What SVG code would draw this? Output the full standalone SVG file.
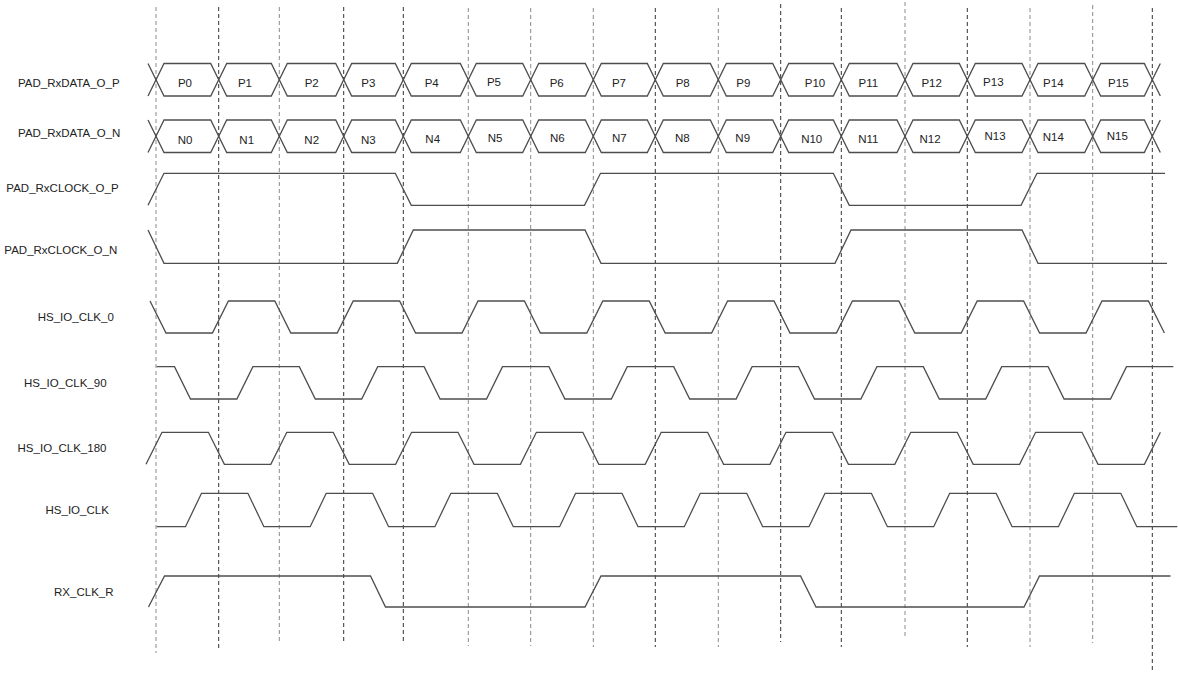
<svg xmlns="http://www.w3.org/2000/svg" xmlns:xlink="http://www.w3.org/1999/xlink" width="1178" height="673" viewBox="0 0 1178 673">
<style>
.bg{fill:#ffffff}
.grid-d{stroke:#333333;stroke-width:1;stroke-dasharray:4,3;fill:none}
.grid-l{stroke:#8a8a8a;stroke-width:1;stroke-dasharray:4,3;fill:none}
.wave{stroke:#4d4d4d;stroke-width:1.3;fill:none;stroke-linejoin:miter}
.lbl{font-family:"Liberation Sans",Arial,sans-serif;font-size:11.5px;fill:#222222;text-anchor:middle}
</style>
<defs>
<g id="dataShape" class="wave">
<polyline points="148,63.5 156,79.75 148,96"/>
<polygon points="156,79.75 164,63.5 210.7,63.5 218.7,79.75 210.7,96 164,96"/>
<polygon points="218.7,79.75 226.7,63.5 271.3,63.5 279.3,79.75 271.3,96 226.7,96"/>
<polygon points="279.3,79.75 287.3,63.5 335.7,63.5 343.7,79.75 335.7,96 287.3,96"/>
<polygon points="343.7,79.75 351.7,63.5 395.3,63.5 403.3,79.75 395.3,96 351.7,96"/>
<polygon points="403.3,79.75 411.3,63.5 460.3,63.5 468.3,79.75 460.3,96 411.3,96"/>
<polygon points="468.3,79.75 476.3,63.5 522.7,63.5 530.7,79.75 522.7,96 476.3,96"/>
<polygon points="530.7,79.75 538.7,63.5 585.3,63.5 593.3,79.75 585.3,96 538.7,96"/>
<polygon points="593.3,79.75 601.3,63.5 647.3,63.5 655.3,79.75 647.3,96 601.3,96"/>
<polygon points="655.3,79.75 663.3,63.5 710.3,63.5 718.3,79.75 710.3,96 663.3,96"/>
<polygon points="718.3,79.75 726.3,63.5 772.7,63.5 780.7,79.75 772.7,96 726.3,96"/>
<polygon points="780.7,79.75 788.7,63.5 833.3,63.5 841.3,79.75 833.3,96 788.7,96"/>
<polygon points="841.3,79.75 849.3,63.5 897,63.5 905,79.75 897,96 849.3,96"/>
<polygon points="905,79.75 913,63.5 959.3,63.5 967.3,79.75 959.3,96 913,96"/>
<polygon points="967.3,79.75 975.3,63.5 1022,63.5 1030,79.75 1022,96 975.3,96"/>
<polygon points="1030,79.75 1038,63.5 1084.7,63.5 1092.7,79.75 1084.7,96 1038,96"/>
<polygon points="1092.7,79.75 1100.7,63.5 1144.3,63.5 1152.3,79.75 1144.3,96 1100.7,96"/>
<polyline points="1160.3,63.5 1152.3,79.75 1160.3,96"/>
</g>
</defs>
<rect class="bg" x="0" y="0" width="1178" height="673"/>

<g id="connectors">
<line class="grid-l" x1="156" y1="7" x2="156" y2="653"/>
<line class="grid-d" x1="218.7" y1="7" x2="218.7" y2="648"/>
<line class="grid-l" x1="279.3" y1="7" x2="279.3" y2="643"/>
<line class="grid-d" x1="343.7" y1="7" x2="343.7" y2="643"/>
<line class="grid-d" x1="403.3" y1="7" x2="403.3" y2="643"/>
<line class="grid-l" x1="468.3" y1="8" x2="468.3" y2="646"/>
<line class="grid-l" x1="530.7" y1="8" x2="530.7" y2="646"/>
<line class="grid-l" x1="593.3" y1="8" x2="593.3" y2="647"/>
<line class="grid-d" x1="655.3" y1="8" x2="655.3" y2="647"/>
<line class="grid-l" x1="718.3" y1="8" x2="718.3" y2="647"/>
<line class="grid-d" x1="780.7" y1="4" x2="780.7" y2="642"/>
<line class="grid-d" x1="841.3" y1="8" x2="841.3" y2="647"/>
<line class="grid-l" x1="905" y1="2" x2="905" y2="639"/>
<line class="grid-d" x1="967.3" y1="8" x2="967.3" y2="647"/>
<line class="grid-l" x1="1030" y1="8" x2="1030" y2="647"/>
<line class="grid-l" x1="1092.7" y1="5" x2="1092.7" y2="643"/>
<line class="grid-d" x1="1152.3" y1="8" x2="1152.3" y2="673"/>
</g>

<g id="PAD_RxDATA_O_P">
<text class="lbl" x="68.8" y="87.3">PAD_RxDATA_O_P</text>
<use xlink:href="#dataShape"/>
<text class="lbl" x="185" y="87.3">P0</text>
<text class="lbl" x="245" y="87.3">P1</text>
<text class="lbl" x="311.7" y="87.3">P2</text>
<text class="lbl" x="368.3" y="87.3">P3</text>
<text class="lbl" x="431.7" y="87.3">P4</text>
<text class="lbl" x="494" y="85.7">P5</text>
<text class="lbl" x="556.7" y="87.3">P6</text>
<text class="lbl" x="619" y="87.3">P7</text>
<text class="lbl" x="682.7" y="87.3">P8</text>
<text class="lbl" x="743.3" y="87.3">P9</text>
<text class="lbl" x="815" y="87.3">P10</text>
<text class="lbl" x="868.3" y="87.3">P11</text>
<text class="lbl" x="931.7" y="87.3">P12</text>
<text class="lbl" x="993.3" y="85.7">P13</text>
<text class="lbl" x="1053.3" y="87.3">P14</text>
<text class="lbl" x="1118.3" y="87.3">P15</text>
</g>

<g id="PAD_RxDATA_O_N">
<text class="lbl" x="69.2" y="137.3">PAD_RxDATA_O_N</text>
<use xlink:href="#dataShape" transform="translate(0,56.5)"/>
<text class="lbl" x="185" y="144">N0</text>
<text class="lbl" x="246.7" y="144">N1</text>
<text class="lbl" x="311.7" y="144">N2</text>
<text class="lbl" x="368.3" y="144">N3</text>
<text class="lbl" x="432.7" y="143.3">N4</text>
<text class="lbl" x="495" y="142.3">N5</text>
<text class="lbl" x="557.3" y="142.3">N6</text>
<text class="lbl" x="619.3" y="142.3">N7</text>
<text class="lbl" x="682.3" y="142.3">N8</text>
<text class="lbl" x="742.7" y="142.3">N9</text>
<text class="lbl" x="811.7" y="143.3">N10</text>
<text class="lbl" x="868.3" y="143.3">N11</text>
<text class="lbl" x="930" y="143">N12</text>
<text class="lbl" x="995" y="140">N13</text>
<text class="lbl" x="1053.3" y="140.7">N14</text>
<text class="lbl" x="1117.3" y="140">N15</text>
</g>

<g id="PAD_RxCLOCK_O_P">
<text class="lbl" x="62.5" y="192.3">PAD_RxCLOCK_O_P</text>
<path class="wave" d="M148,205.3 L164,173.3 L395.3,173.3 L411.3,205.3 L584.5,205.3 L600.5,173.3 L833.3,173.3 L849.3,205.3 L1021,205.3 L1037,173.3 L1165,173.3"/>
</g>

<g id="PAD_RxCLOCK_O_N">
<text class="lbl" x="60.8" y="254">PAD_RxCLOCK_O_N</text>
<path class="wave" d="M148,230 L164,263.3 L397.3,263.3 L413.3,230 L585,230 L601,263.3 L835,263.3 L851,230 L1022,230 L1038,263.3 L1167,263.3"/>
</g>

<g id="HS_IO_CLK_0">
<text class="lbl" x="75.8" y="320.7">HS_IO_CLK_0</text>
<path class="wave" d="M150,301 L166,333 L212.4,333 L228.4,301 L274.8,301 L290.8,333 L337.2,333 L353.2,301 L399.6,301 L415.6,333 L462,333 L478,301 L524.4,301 L540.4,333 L586.8,333 L602.8,301 L649.2,301 L665.2,333 L711.6,333 L727.6,301 L774,301 L790,333 L836.4,333 L852.4,301 L898.8,301 L914.8,333 L961.2,333 L977.2,301 L1023.6,301 L1039.6,333 L1086,333 L1102,301 L1148.4,301 L1164.4,333"/>
</g>

<g id="HS_IO_CLK_90">
<text class="lbl" x="65.3" y="387.3">HS_IO_CLK_90</text>
<path class="wave" d="M156.7,366.7 L174.5,366.7 L190.5,399 L236.9,399 L252.9,366.7 L299.3,366.7 L315.3,399 L361.7,399 L377.7,366.7 L424.1,366.7 L440.1,399 L486.5,399 L502.5,366.7 L548.9,366.7 L564.9,399 L611.3,399 L627.3,366.7 L673.7,366.7 L689.7,399 L736.1,399 L752.1,366.7 L798.5,366.7 L814.5,399 L860.9,399 L876.9,366.7 L923.3,366.7 L939.3,399 L985.7,399 L1001.7,366.7 L1048.1,366.7 L1064.1,399 L1110.5,399 L1126.5,366.7 L1173.3,366.7"/>
</g>

<g id="HS_IO_CLK_180">
<text class="lbl" x="62" y="452.3">HS_IO_CLK_180</text>
<path class="wave" d="M146,464.3 L162,432.3 L208.4,432.3 L224.4,464.3 L270.8,464.3 L286.8,432.3 L333.2,432.3 L349.2,464.3 L395.6,464.3 L411.6,432.3 L458,432.3 L474,464.3 L520.4,464.3 L536.4,432.3 L582.8,432.3 L598.8,464.3 L645.2,464.3 L661.2,432.3 L707.6,432.3 L723.6,464.3 L770,464.3 L786,432.3 L832.4,432.3 L848.4,464.3 L894.8,464.3 L910.8,432.3 L957.2,432.3 L973.2,464.3 L1019.6,464.3 L1035.6,432.3 L1082,432.3 L1098,464.3 L1144.4,464.3 L1160.4,432.3"/>
</g>

<g id="HS_IO_CLK">
<text class="lbl" x="77.2" y="514">HS_IO_CLK</text>
<path class="wave" d="M156.7,526.7 L185.5,526.7 L201.5,493.3 L247.9,493.3 L263.9,526.7 L310.2,526.7 L326.2,493.3 L372.6,493.3 L388.6,526.7 L434.9,526.7 L450.9,493.3 L497.3,493.3 L513.3,526.7 L559.6,526.7 L575.6,493.3 L622,493.3 L638,526.7 L684.3,526.7 L700.3,493.3 L746.7,493.3 L762.7,526.7 L809,526.7 L825,493.3 L871.4,493.3 L887.4,526.7 L933.7,526.7 L949.7,493.3 L996.1,493.3 L1012.1,526.7 L1058.4,526.7 L1074.4,493.3 L1120.8,493.3 L1136.8,526.7 L1177.3,526.7"/>
</g>

<g id="RX_CLK_R">
<text class="lbl" x="83.8" y="596">RX_CLK_R</text>
<path class="wave" d="M148.5,607 L164.5,576 L370.5,576 L385.5,607 L585,607 L601,576 L800.5,576 L816,607 L1024,607 L1039.5,576 L1170.5,576"/>
</g>
</svg>
